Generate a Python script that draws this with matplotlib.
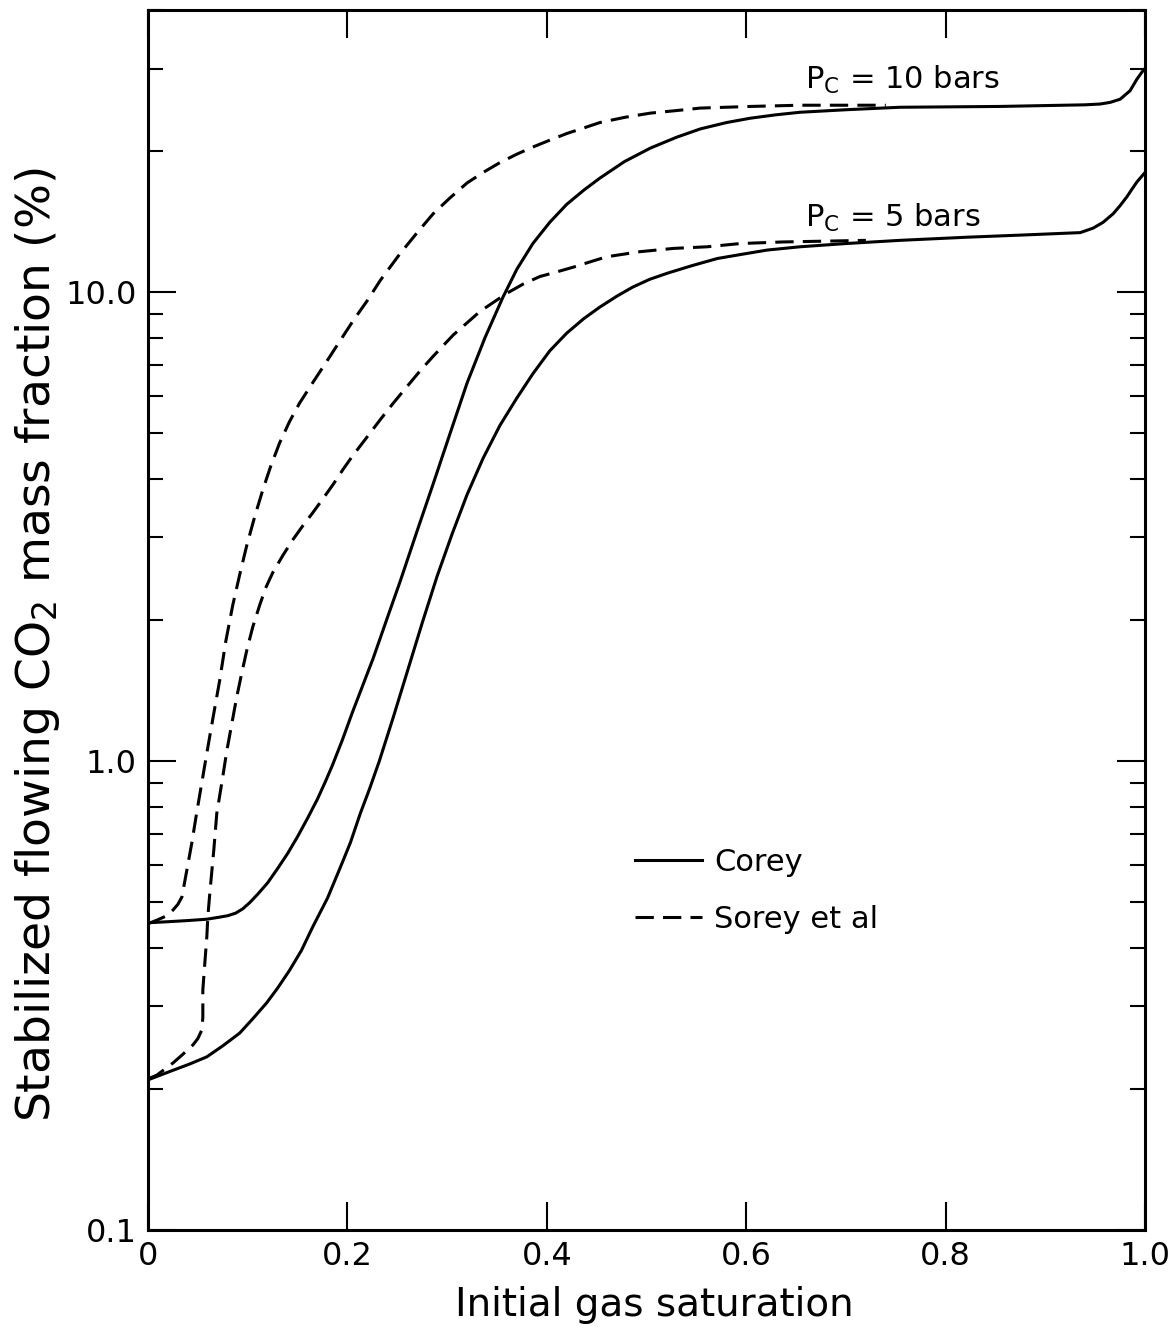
import matplotlib
matplotlib.use("Agg")
import matplotlib.pyplot as plt
import matplotlib.ticker as mticker
from matplotlib.lines import Line2D

plt.rcParams["font.family"] = ["DejaVu Sans"]
plt.rcParams["mathtext.default"] = "regular"

# ─── Datos ──────────────────────────────────────────────────────────────────
# Corey, Pc = 10 bars (solida superior)
corey10_x = [0, 0.025, 0.04, 0.059, 0.07, 0.08, 0.088, 0.095, 0.102, 0.11,
             0.12, 0.13, 0.14, 0.15, 0.16, 0.17, 0.178, 0.185, 0.195, 0.205,
             0.226, 0.24, 0.253, 0.27, 0.286, 0.303, 0.320, 0.338, 0.356,
             0.37, 0.386, 0.403, 0.420, 0.437, 0.453, 0.478, 0.504, 0.53,
             0.554, 0.58, 0.604, 0.63, 0.654, 0.70, 0.754, 0.854, 0.94,
             0.955, 0.965, 0.975, 0.985, 0.992, 0.997, 1.0]
corey10_y = [0.452, 0.455, 0.457, 0.46, 0.464, 0.468, 0.474, 0.484, 0.499, 0.52,
             0.55, 0.59, 0.635, 0.69, 0.755, 0.83, 0.905, 0.98, 1.11, 1.27,
             1.66, 2.02, 2.42, 3.1, 3.9, 5.0, 6.4, 8.0, 9.76,
             11.2, 12.7, 14.1, 15.4, 16.5, 17.5, 19.0, 20.3, 21.4,
             22.3, 23.0, 23.5, 23.9, 24.2, 24.5, 24.8, 24.9, 25.1,
             25.2, 25.4, 25.8, 26.9, 28.5, 29.5, 30.0]

# Corey, Pc = 5 bars (solida inferior)
corey5_x = [0, 0.025, 0.042, 0.059, 0.075, 0.092, 0.105, 0.119, 0.13, 0.142,
            0.154, 0.165, 0.18, 0.193, 0.203, 0.213, 0.222, 0.232, 0.246,
            0.260, 0.275, 0.290, 0.305, 0.320, 0.336, 0.353, 0.37, 0.386,
            0.403, 0.420, 0.437, 0.453, 0.47, 0.486, 0.503, 0.521, 0.546,
            0.571, 0.596, 0.621, 0.654, 0.70, 0.754, 0.821, 0.88, 0.935,
            0.948, 0.958, 0.968, 0.975, 0.982, 0.987, 0.992, 0.997, 1.0]
corey5_y = [0.209, 0.219, 0.226, 0.234, 0.247, 0.263, 0.282, 0.305, 0.328, 0.358,
            0.395, 0.442, 0.51, 0.594, 0.67, 0.774, 0.87, 1.0, 1.24,
            1.55, 1.97, 2.48, 3.05, 3.7, 4.42, 5.2, 5.95, 6.7,
            7.5, 8.18, 8.78, 9.29, 9.8, 10.25, 10.65, 10.98, 11.4,
            11.8, 12.05, 12.3, 12.5, 12.7, 12.9, 13.1, 13.25, 13.4,
            13.7, 14.1, 14.7, 15.3, 16.0, 16.6, 17.2, 17.7, 18.0]

# Sorey et al, Pc = 10 bars (discontinua superior)
sorey10_x = [0, 0.009, 0.018, 0.025, 0.03, 0.034, 0.039, 0.044, 0.049, 0.054,
             0.059, 0.065, 0.072, 0.078, 0.085, 0.092, 0.099, 0.107, 0.115,
             0.123, 0.132, 0.142, 0.152, 0.166, 0.180, 0.193, 0.206, 0.22,
             0.233, 0.253, 0.27, 0.286, 0.303, 0.320, 0.336, 0.353, 0.37,
             0.386, 0.403, 0.420, 0.437, 0.453, 0.478, 0.504, 0.53, 0.554,
             0.604, 0.654, 0.74]
sorey10_y = [0.45, 0.458, 0.467, 0.481, 0.495, 0.513, 0.586, 0.67, 0.78, 0.90,
             1.04, 1.23, 1.49, 1.8, 2.15, 2.5, 2.88, 3.32, 3.78,
             4.25, 4.77, 5.3, 5.8, 6.45, 7.16, 7.9, 8.71, 9.6,
             10.6, 12.1, 13.4, 14.7, 15.9, 17.1, 18.0, 18.9, 19.7,
             20.4, 21.1, 21.8, 22.4, 23.0, 23.6, 24.1, 24.4, 24.7,
             24.9, 25.05, 25.05]

# Sorey et al, Pc = 5 bars (discontinua inferior)
sorey5_x = [0, 0.009, 0.025, 0.035, 0.045, 0.05, 0.054, 0.055, 0.055, 0.057,
            0.059, 0.060, 0.062, 0.066, 0.069, 0.074, 0.079, 0.084, 0.089,
            0.094, 0.099, 0.105, 0.112, 0.118, 0.125, 0.135, 0.145, 0.155,
            0.165, 0.176, 0.186, 0.196, 0.206, 0.22, 0.233, 0.246, 0.260,
            0.273, 0.286, 0.306, 0.333, 0.360, 0.376, 0.393, 0.41, 0.426,
            0.443, 0.460, 0.493, 0.527, 0.561, 0.594, 0.637, 0.72]
sorey5_y = [0.21, 0.214, 0.227, 0.237, 0.248, 0.256, 0.267, 0.284, 0.325, 0.371,
            0.422, 0.465, 0.523, 0.646, 0.774, 0.898, 1.05, 1.2, 1.37,
            1.54, 1.72, 1.93, 2.15, 2.34, 2.52, 2.74, 2.96, 3.17,
            3.38, 3.64, 3.9, 4.2, 4.5, 4.92, 5.35, 5.8, 6.3,
            6.8, 7.3, 8.1, 9.1, 9.95, 10.4, 10.8, 11.05, 11.3,
            11.6, 11.9, 12.2, 12.4, 12.5, 12.7, 12.8, 12.9]

x_ticks = [0, 0.2, 0.4, 0.6, 0.8, 1.0]
x_ticklabels = ["0", "0.2", "0.4", "0.6", "0.8", "1.0"]
y_ticks = [0.1, 1.0, 10.0]
y_ticklabels = ["0.1", "1.0", "10.0"]

# ─── Grafica ─────────────────────────────────────────────────────────────────
LW = 2.2
DASH = (0, (6, 3))

fig = plt.figure(figsize=(11.69, 13.41), dpi=100)
ax = fig.add_axes([0.1266, 0.0828, 0.8529, 0.9098])

ax.plot(corey10_x, corey10_y, color="black", lw=LW, solid_joinstyle="round")
ax.plot(corey5_x, corey5_y, color="black", lw=LW, solid_joinstyle="round")
ax.plot(sorey10_x, sorey10_y, color="black", lw=LW, linestyle=DASH)
ax.plot(sorey5_x, sorey5_y, color="black", lw=LW, linestyle=DASH)

ax.set_yscale("log")
ax.set_xlim(0, 1.0)
ax.set_ylim(0.1, 40)

ax.set_xticks(x_ticks)
ax.set_xticklabels(x_ticklabels)
ax.set_yticks(y_ticks)
ax.set_yticklabels(y_ticklabels)
ax.yaxis.set_minor_locator(mticker.LogLocator(base=10, subs=range(2, 10)))
ax.yaxis.set_minor_formatter(mticker.NullFormatter())

ax.tick_params(which="major", direction="in", length=20, width=1.5,
               top=True, right=True, labelsize=23, pad=8)
ax.tick_params(which="minor", direction="in", length=11, width=1.5,
               top=True, right=True)
for sp in ax.spines.values():
    sp.set_linewidth(2.2)

ax.set_xlabel("Initial gas saturation", fontsize=28)
ax.set_ylabel("Stabilized flowing CO$_2$ mass fraction (%)", fontsize=34)
ax.xaxis.set_label_coords(0.5075, -0.046)
ax.yaxis.set_label_coords(-0.086, 0.48)

ax.text(0.659, 27.2, "P$_C$ = 10 bars", fontsize=22, ha="left", va="baseline")
ax.text(0.659, 13.8, "P$_C$ = 5 bars", fontsize=22, ha="left", va="baseline")

ax.legend(
    handles=[
        Line2D([0], [0], color="black", lw=LW, label="Corey"),
        Line2D([0], [0], color="black", lw=LW, linestyle=DASH, label="Sorey et al"),
    ],
    loc="upper left", bbox_to_anchor=(0.488, 0.313), frameon=False,
    fontsize=22, handlelength=2.2, handletextpad=0.4, labelspacing=0.9,
    borderpad=0, borderaxespad=0,
)

fig.savefig("out.png", dpi=100)
